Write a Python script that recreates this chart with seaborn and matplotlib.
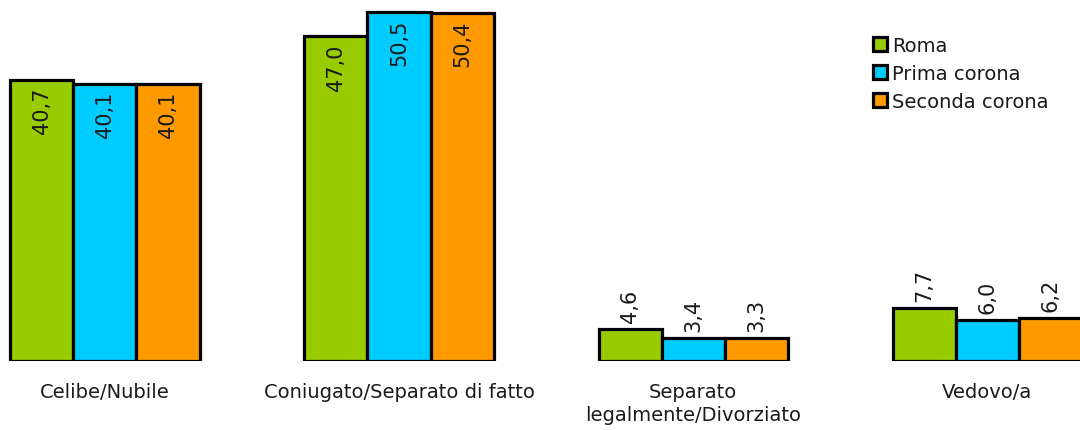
import pandas as pd
import matplotlib.pyplot as plt
import seaborn as sns

# dati
categorie = ['Celibe/Nubile', 'Coniugato/Separato di fatto',
             'Separato\nlegalmente/Divorziato', 'Vedovo/a']
roma = [40.7, 47.0, 4.6, 7.7]
prima_corona = [40.1, 50.5, 3.4, 6.0]
seconda_corona = [40.1, 50.4, 3.3, 6.2]
serie = ['Roma', 'Prima corona', 'Seconda corona']
colori = ['#99CC00', '#00CCFF', '#FF9900']

df = pd.DataFrame({
    'categoria': categorie * 3,
    'valore': roma + prima_corona + seconda_corona,
    'zona': [s for s in serie for _ in categorie],
})

sns.set_style('white')
plt.rcParams['font.family'] = ['DejaVu Sans']
plt.rcParams['text.color'] = '#1a1a1a'
plt.rcParams['xtick.color'] = '#1a1a1a'

fig = plt.figure(figsize=(10.8, 4.31), dpi=100)
ax = fig.add_axes([0, 69 / 431, 1, 362 / 431])

sns.barplot(data=df, x='categoria', y='valore', hue='zona', order=categorie,
            hue_order=serie, palette=colori, width=0.643, dodge=True,
            edgecolor='black', linewidth=2.3, saturation=1, ax=ax, legend=False)

ax.set_xlim(-0.357, 3.316)
ax.set_ylim(0, 52.4)
for s in ax.spines.values():
    s.set_visible(False)
ax.set_yticks([])
ax.set_xlabel('')
ax.set_ylabel('')
ax.tick_params(axis='x', length=0, pad=15, labelsize=14)
for t in ax.get_xticklabels():
    t.set_linespacing(1.25)

valori = [roma, prima_corona, seconda_corona]
for cont, vals in zip(ax.containers, valori):
    for bar, v in zip(cont, vals):
        xc = bar.get_x() + bar.get_width() / 2
        txt = f'{v:.1f}'.replace('.', ',')
        if v > 20:
            ax.annotate(txt, (xc, v), xytext=(0, -5), textcoords='offset points',
                        rotation=90, ha='center', va='top', fontsize=15)
        else:
            ax.annotate(txt, (xc, v), xytext=(0, 5), textcoords='offset points',
                        rotation=90, ha='center', va='bottom', fontsize=15)

handles = [plt.Rectangle((0, 0), 1, 1, facecolor=c, edgecolor='black', linewidth=2.3)
           for c in colori]
fig.legend(handles, serie, loc='upper left', bbox_to_anchor=(873 / 1080, 1 - 37 / 431),
           frameon=False, fontsize=14, handlelength=0.7, handleheight=0.7,
           handletextpad=0.3, labelspacing=0.45, borderaxespad=0, borderpad=0)

fig.savefig('out.png', dpi=100)
